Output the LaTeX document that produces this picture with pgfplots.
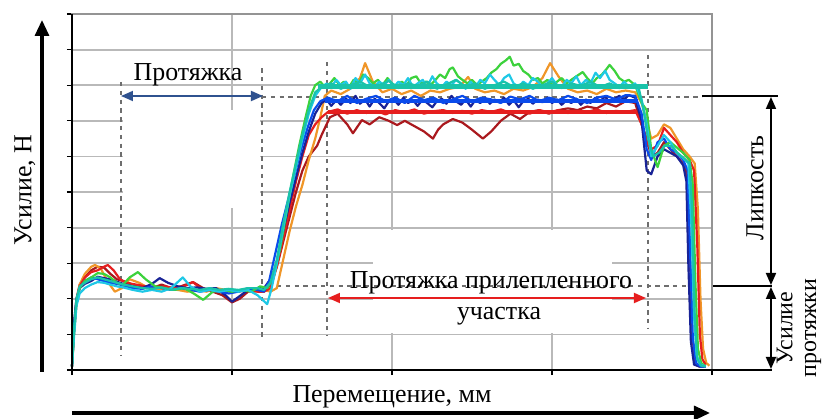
\documentclass[border=0pt]{standalone}
\usepackage{fontspec}
\setmainfont{Liberation Serif}[Ligatures=TeX]
\usepackage{pgfplots}
\pgfplotsset{compat=1.18}
\usetikzlibrary{arrows.meta}
\definecolor{cDB}{RGB}{25,35,150}
\definecolor{cB}{RGB}{10,75,235}
\definecolor{cC}{RGB}{30,200,230}
\definecolor{cG}{RGB}{60,210,60}
\definecolor{cT}{RGB}{25,195,170}
\definecolor{cO}{RGB}{240,150,40}
\definecolor{cR}{RGB}{230,30,30}
\definecolor{cDR}{RGB}{170,25,30}
\definecolor{cArrB}{RGB}{47,82,143}
\definecolor{cGrid}{RGB}{185,185,185}
\definecolor{cDash}{RGB}{110,110,110}
\begin{document}
\fontsize{13}{15}\selectfont
\begin{tikzpicture}
\path[use as bounding box] (0bp,0bp) rectangle (412.5bp,-209.5bp);
\begin{axis}[at={(36bp,-185bp)},anchor=south west,scale only axis,
  width=320bp,height=178bp,xmin=0,xmax=100,ymin=0,ymax=10,
  xtick={0,25,50,75,100},ytick={0,1,...,10},xticklabels={},yticklabels={},
  tick pos=left,tick align=outside,major tick length=2.5bp,
  tick style={black,line width=0.6bp},
  grid=major,major grid style={draw=cGrid,line width=0.9bp},
  axis line style={draw=cGrid!80!black,line width=0.8bp},
  clip=false,
  every axis plot/.append style={no marks,line width=1.1bp,line join=round}]
% white boxes hiding grid
\fill[white] (axis cs:7.9,7.3) rectangle (axis cs:29.45,4.55);
\fill[white] (axis cs:47.0,3.92) rectangle (axis cs:84.4,1.04);
% dashed guide lines
\begin{scope}[draw=cDash,line width=1bp,dash pattern=on 2.2bp off 2.2bp]
\draw (axis cs:7.66,8.09) -- (axis cs:7.66,0.42);
\draw (axis cs:29.69,8.48) -- (axis cs:29.69,0.84);
\draw (axis cs:39.84,8.65) -- (axis cs:39.84,0.98);
\draw (axis cs:90.0,8.85) -- (axis cs:90.0,1.18);
\draw (axis cs:29.69,7.67) -- (axis cs:98.44,7.67);
\draw (axis cs:32.03,2.36) -- (axis cs:98.13,2.36);
\end{scope}
% dark red
\addplot[color=cDR] coordinates {(0,0.1)(0.3,1.2)(0.7,2.0)(1.2,2.4)(2,2.6)(3,2.8)(4,2.9)(5,2.88)(6,2.7)(7,2.55)(8,2.5)(9.5,2.4)(11,2.35)(12.5,2.3)(14,2.4)(15.5,2.3)(17,2.35)(18.9,2.47)(20.5,2.3)(22,2.2)(23.5,2.1)(25,1.9)(26.2,2.0)(27.5,2.2)(29,2.25)(30,2.2)(31,2.4)(32,2.9)(33,3.6)(34,4.3)(35,5.0)(36,5.6)(37,6.0)(38.3,6.3)(39,6.6)(40.3,7.1)(41.5,7.2)(43,6.9)(43.9,6.65)(45.3,7.02)(46.5,6.9)(48,7.1)(49.5,7.0)(50.8,6.88)(52,7.0)(53.5,6.85)(55,6.7)(56.4,6.5)(57.2,6.75)(58,6.9)(59.5,7.05)(61,6.95)(62.5,6.75)(64.2,6.5)(65.5,6.7)(67,7.0)(68.5,7.2)(70,7.05)(71.5,7.25)(73,7.3)(74.5,7.2)(76,7.3)(77.5,7.35)(79,7.3)(80.5,7.4)(82,7.35)(83.5,7.5)(85,7.4)(86.5,7.55)(88,7.5)(89,6.9)(89.8,6.5)(90.5,6.0)(91.5,6.1)(92.5,6.4)(93.5,6.2)(94.5,6.0)(95.5,5.8)(96.1,5.5)(96.5,3.5)(96.9,1.0)(97.4,0.2)(98,0.1)(99,0.1)};
% orange
\addplot[color=cO] coordinates {(0,0.1)(0.3,1.0)(0.7,1.9)(1.2,2.4)(2,2.7)(3,2.9)(3.6,2.95)(4.5,2.85)(5.5,2.5)(6.7,2.2)(7.8,2.3)(9,2.55)(10.5,2.45)(12,2.3)(13.5,2.25)(15,2.3)(16.5,2.25)(18,2.2)(19.5,2.25)(21,2.2)(22.5,2.3)(24,2.25)(25.5,2.2)(27,2.25)(28.5,2.2)(30,2.25)(31,2.2)(32,2.3)(33,3.1)(34,3.9)(35,4.6)(36,5.2)(37,5.9)(38,6.5)(38.8,7.1)(39.5,7.7)(40.5,7.85)(42,7.75)(43.5,7.9)(45,8.2)(45.8,8.62)(47,8.1)(48.5,7.8)(50,7.9)(51.5,7.75)(53,7.85)(54.5,7.7)(56,7.85)(57.5,7.8)(59,7.9)(60.5,7.95)(61.9,8.23)(63,7.9)(64.5,7.8)(66,7.85)(67.5,7.75)(69,7.9)(70.5,7.85)(72,7.95)(73.5,8.2)(74.7,8.62)(76,8.25)(77.5,7.9)(79,7.8)(80.5,7.85)(82,7.75)(83.5,7.9)(85,7.8)(86.5,7.85)(88,7.8)(89,7.5)(89.8,7.0)(90.5,6.5)(91.5,6.6)(92.5,6.9)(93.5,6.8)(94.5,6.5)(95.5,6.2)(96.5,6.0)(97.3,5.8)(97.8,4.5)(98.2,2.0)(98.6,0.6)(99.1,0.2)(99.6,0.12)};
% red
\addplot[color=cR] coordinates {(0,0.1)(0.3,1.0)(0.7,1.9)(1.2,2.35)(2,2.6)(3,2.75)(4,2.8)(5,2.9)(5.6,2.95)(6.5,2.8)(7.5,2.55)(8.5,2.45)(10,2.4)(11.5,2.35)(13,2.3)(14.5,2.35)(16,2.3)(17.5,2.35)(18.9,2.47)(20,2.3)(21.5,2.25)(23,2.2)(24.5,2.25)(26,2.2)(27.5,2.25)(29,2.2)(30,2.2)(31,2.3)(32,2.9)(33,3.7)(34,4.5)(35,5.3)(36,6.0)(37,6.6)(38,6.9)(39,7.1)(40,7.25)(41.5,7.32)(43,7.2)(44.5,7.3)(46,7.22)(47.5,7.28)(49,7.18)(50.5,7.3)(52,7.24)(53.5,7.32)(55,7.2)(56.5,7.27)(58,7.3)(59.5,7.22)(61,7.28)(62.5,7.2)(64,7.3)(65.5,7.25)(67,7.32)(68.5,7.22)(70,7.28)(71.5,7.2)(73,7.3)(74.5,7.24)(76,7.3)(77.5,7.22)(79,7.28)(80.5,7.25)(82,7.32)(83.5,7.22)(85,7.28)(86.5,7.25)(88,7.3)(89,6.9)(89.8,6.4)(90.5,6.2)(91.5,6.3)(92.5,6.8)(93.5,6.6)(94.5,6.4)(95.5,6.1)(96.5,5.9)(97.2,5.6)(97.7,3.5)(98.1,1.0)(98.5,0.3)(99,0.15)};
% dark blue
\addplot[color=cDB] coordinates {(0,0.1)(0.3,1.3)(0.7,2.0)(1.2,2.3)(2,2.42)(3,2.5)(4,2.62)(5,2.58)(6,2.55)(7,2.48)(8,2.42)(9.5,2.35)(11,2.3)(12.5,2.42)(13.7,2.58)(15,2.45)(16.5,2.35)(18,2.3)(19.5,2.32)(21,2.28)(22.5,2.3)(24,2.1)(25,1.92)(26,2.05)(27.5,2.25)(29,2.3)(30,2.3)(31,2.55)(32,3.0)(33,3.9)(34,4.7)(35,5.4)(36,6.1)(37,6.7)(38,7.2)(39,7.5)(39.8,7.6)(40.5,7.42)(41.3,7.58)(42,7.45)(42.8,7.62)(43.5,7.5)(44.3,7.7)(45,7.48)(45.8,7.6)(46.5,7.4)(47.3,7.62)(48,7.5)(48.8,7.35)(49.5,7.55)(50.3,7.6)(51,7.45)(51.8,7.65)(52.5,7.5)(53.3,7.58)(54,7.42)(54.8,7.6)(55.5,7.5)(56.3,7.38)(57,7.55)(57.8,7.62)(58.5,7.48)(59.3,7.7)(60,7.55)(60.8,7.45)(61.5,7.6)(62.3,7.4)(63,7.58)(63.8,7.5)(64.5,7.65)(65.3,7.48)(66,7.6)(66.8,7.52)(67.5,7.65)(68.3,7.45)(69,7.58)(69.8,7.38)(70.5,7.55)(71.3,7.62)(72,7.48)(72.8,7.6)(73.5,7.52)(74.3,7.65)(75,7.5)(75.8,7.6)(76.5,7.45)(77.3,7.58)(78,7.5)(78.8,7.62)(79.5,7.45)(80.3,7.6)(81,7.5)(81.8,7.65)(82.5,7.55)(83.3,7.68)(84,7.52)(84.8,7.62)(85.5,7.7)(86.3,7.6)(87,7.72)(88,7.65)(89,7.0)(89.8,5.6)(90.5,5.5)(91.5,6.0)(92.5,6.2)(93.5,6.1)(94.5,6.0)(95.5,5.75)(96,5.3)(96.3,3.0)(96.7,0.8)(97.2,0.15)(98,0.1)(99,0.1)};
% blue
\addplot[color=cB] coordinates {(0,0.1)(0.3,1.1)(0.7,1.95)(1.2,2.3)(2,2.5)(3,2.6)(4,2.55)(5,2.5)(6,2.45)(7,2.42)(8,2.38)(9.5,2.3)(11,2.28)(12.5,2.35)(14,2.3)(15.5,2.25)(17,2.3)(18.5,2.25)(20,2.2)(21.5,2.25)(23,2.2)(24.5,2.15)(26,2.2)(27.5,2.3)(29,2.25)(30,2.2)(30.8,2.5)(31.8,3.3)(32.8,4.1)(33.8,4.8)(34.8,5.5)(35.8,6.2)(36.8,6.8)(37.8,7.3)(38.8,7.55)(40,7.65)(41.5,7.55)(43,7.7)(44.5,7.5)(46,7.62)(47.5,7.7)(49,7.55)(50.5,7.65)(52,7.5)(53.5,7.7)(55,7.58)(56.5,7.65)(58,7.5)(59.5,7.6)(61,7.7)(62.5,7.55)(64,7.65)(65.5,7.6)(67,7.5)(68.5,7.68)(70,7.6)(71.5,7.7)(73,7.55)(74.5,7.65)(76,7.58)(77.5,7.7)(79,7.6)(80.5,7.5)(82,7.65)(83.5,7.7)(85,7.6)(86.5,7.72)(88,7.7)(89,7.2)(89.8,6.2)(90.5,5.9)(91.5,6.4)(92.5,6.5)(93.5,6.2)(94.5,6.1)(95.5,5.9)(96.2,5.6)(96.6,3.2)(97,0.9)(97.5,0.2)(98.2,0.1)(99,0.1)};
% green
\addplot[color=cG] coordinates {(0,0.1)(0.3,1.0)(0.7,1.9)(1.2,2.3)(2,2.5)(3,2.6)(4,2.72)(5,2.7)(6,2.6)(7,2.45)(8,2.4)(9,2.6)(10.3,2.75)(11.5,2.55)(13,2.35)(14.5,2.3)(16,2.25)(17.5,2.3)(19,2.15)(20.5,1.97)(22,2.2)(23.5,2.25)(25,2.2)(26.5,2.25)(28,2.2)(29.4,2.35)(30.5,2.3)(31.5,2.6)(32.5,3.4)(33.5,4.4)(34.5,5.4)(35.5,6.3)(36.5,7.1)(37.3,7.7)(38,8.0)(38.8,8.1)(39.5,7.95)(40.3,8.05)(41,8.2)(41.8,8.0)(42.5,8.1)(43.3,7.95)(44,8.15)(44.8,8.05)(45.5,8.3)(46.3,8.2)(47,8.05)(47.8,8.15)(48.5,8.0)(49.3,8.2)(50,8.05)(50.8,7.95)(51.5,8.1)(52.3,8.0)(53,8.2)(53.8,8.25)(54.5,8.05)(55.3,8.1)(56,8.0)(56.8,8.15)(57.5,8.3)(58.3,8.2)(59,8.45)(59.5,8.5)(60.3,8.25)(61,8.15)(61.8,8.05)(62.5,8.15)(63.3,8.0)(64,8.1)(64.8,8.2)(65.5,8.35)(66.3,8.45)(67,8.6)(67.8,8.7)(68.4,8.8)(69,8.55)(69.8,8.6)(70.5,8.4)(71.3,8.3)(72,8.15)(72.8,8.2)(73.5,8.05)(74.3,8.15)(75,8.0)(75.8,8.1)(76.5,8.2)(77.3,8.05)(78,8.15)(78.8,8.25)(79.8,8.37)(80.5,8.2)(81.3,8.05)(82,8.2)(82.8,8.3)(83.5,8.45)(84,8.57)(84.8,8.4)(85.5,8.2)(86.3,8.1)(87,8.15)(88,8.0)(89,7.5)(89.8,7.3)(90.5,6.2)(91.5,5.7)(92.5,6.3)(93.5,6.4)(94.5,6.25)(95.5,6.1)(96.5,5.9)(97,5.2)(97.4,2.5)(97.8,0.6)(98.3,0.2)(99,0.1)};
% cyan
\addplot[color=cC] coordinates {(0,0.1)(0.3,0.9)(0.7,1.8)(1.2,2.15)(2,2.3)(3,2.4)(4,2.47)(5,2.45)(6,2.4)(7,2.35)(8,2.32)(9.5,2.25)(11,2.2)(12.5,2.25)(14,2.2)(15.5,2.3)(17.3,2.6)(18.5,2.35)(20,2.2)(21.5,2.25)(23,2.2)(24.5,2.25)(26,2.2)(27.5,2.25)(29,2.1)(30.5,1.85)(31.2,2.3)(32,3.0)(33,4.0)(34,4.9)(35,5.7)(36,6.5)(37,7.2)(38,7.7)(39,7.95)(39.8,8.05)(40.5,7.95)(41.3,8.15)(42,8.0)(42.8,8.1)(43.5,7.9)(44.3,8.2)(45,8.05)(45.8,8.3)(46.5,8.05)(47.3,7.95)(48,8.1)(48.8,8.0)(49.5,8.15)(50.3,7.95)(51,8.1)(51.8,8.0)(52.5,8.2)(53.3,7.95)(54,8.05)(54.8,8.15)(55.5,7.95)(56.3,8.25)(57,8.05)(57.8,7.95)(58.5,8.1)(59.3,8.0)(60,8.15)(60.8,8.05)(61.5,7.9)(62.3,8.1)(63,7.95)(63.8,8.15)(64.5,8.05)(65.3,8.3)(66,8.15)(66.8,8.0)(67.5,8.2)(68.3,8.3)(69,8.05)(69.8,7.95)(70.5,8.1)(71.3,8.0)(72,8.2)(72.8,8.1)(73.5,7.95)(74.3,8.05)(75,8.2)(75.8,8.0)(76.5,7.95)(77.3,8.15)(78,8.05)(78.8,8.25)(79.5,8.0)(80.3,8.15)(81,8.05)(81.8,8.35)(82.5,8.2)(83.3,8.4)(84,8.15)(84.8,8.05)(85.5,7.95)(86.3,8.1)(87,7.95)(88,8.05)(89,7.6)(89.8,6.9)(90.5,6.0)(91.5,6.3)(92.5,6.6)(93.5,6.4)(94.5,6.1)(95.5,5.95)(96.3,5.8)(96.8,4.0)(97.2,1.5)(97.6,0.4)(98.2,0.15)(99,0.1)};
% teal
\addplot[color=cT] coordinates {(0,0.1)(0.3,1.1)(0.7,2.0)(1.2,2.35)(2,2.45)(3,2.55)(4,2.6)(5,2.55)(6,2.5)(7,2.45)(8,2.4)(9.5,2.35)(11,2.3)(12.5,2.28)(14,2.32)(15.5,2.25)(17,2.3)(18.5,2.28)(20,2.25)(21.5,2.3)(23,2.25)(24.5,2.28)(26,2.25)(27.5,2.3)(29,2.3)(30,2.25)(31,2.45)(32,3.1)(33,4.1)(34,5.0)(35,5.8)(36,6.6)(37,7.3)(38,7.8)(39,7.95)(40.5,8.05)(42,7.9)(43.5,8.0)(45,8.1)(46.5,7.95)(48,8.0)(49.5,8.12)(51,7.92)(52.5,8.05)(54,7.98)(55.5,8.1)(57,7.9)(58.5,8.02)(60,8.15)(61.5,7.95)(63,8.05)(64.5,7.9)(66,8.0)(67.5,8.1)(69,7.95)(70.5,8.05)(72,7.9)(73.5,8.0)(75,8.1)(76.5,7.92)(78,8.05)(79.5,7.98)(81,8.1)(82.5,7.95)(84,8.05)(85.5,7.92)(87,8.0)(88.5,7.97)(89.3,7.3)(90,6.5)(90.8,6.0)(91.7,6.1)(92.6,6.3)(93.6,6.3)(94.6,6.1)(95.6,5.95)(96.5,5.8)(96.9,4.5)(97.3,1.5)(97.7,0.3)(98.3,0.12)(99,0.1)};
% thick mean lines
\addplot[color=cB,line width=1.8bp] coordinates {(39.5,7.56)(88.5,7.56)};
\addplot[color=cR,line width=2.4bp] coordinates {(40,7.25)(88.3,7.25)};
\addplot[color=cT,line width=2.6bp] coordinates {(38.5,7.97)(90,7.97)};
% black axes
\draw[black,line width=1.4bp] (axis cs:0,10) -- (axis cs:0,0) -- (axis cs:100,0);
\end{axis}
\begin{scope}[x=0.5bp,y=-0.5bp]
% arrows inside plot
\draw[cArrB,line width=0.9bp,{Triangle[length=6bp,width=5bp]}-{Triangle[length=6bp,width=5bp]}] (121,96) -- (263,96);
\draw[cR,line width=0.9bp,{Triangle[length=6bp,width=5bp]}-{Triangle[length=6bp,width=5bp]}] (328,298) -- (646,298);
\node at (188,75) {Протяжка};
\node at (491,283) {Протяжка прилепленного};
\node at (499,316) {участка};
% right annotations
\draw[black,line width=0.7bp] (702,96) -- (778,96);
\draw[black,line width=0.7bp] (713,286) -- (772,286);
\draw[black,line width=0.7bp] (712,370) -- (772,370);
\draw[black,line width=0.9bp,{Triangle[length=6bp,width=5bp]}-{Triangle[length=6bp,width=5bp]}] (771,97) -- (771,285);
\draw[black,line width=0.9bp,{Triangle[length=6bp,width=5bp]}-{Triangle[length=6bp,width=5bp]}] (771,287) -- (771,369);
\node[rotate=90] at (755,188) {Липкость};
\node[rotate=90,align=center,inner sep=0pt,font=\fontsize{12}{12}\selectfont] at (799,328) {Усилие\\протяжки};
% axis arrows and labels
\draw[black,line width=1.6bp,-{Triangle[length=8bp,width=7bp]}] (42,372) -- (42,20);
\draw[black,line width=1.6bp,-{Triangle[length=8bp,width=7bp]}] (72,413) -- (710,413);
\node[rotate=90] at (25,190) {Усилие,~Н};
\node at (392,397) {Перемещение, мм};
\end{scope}
\end{tikzpicture}
\end{document}
